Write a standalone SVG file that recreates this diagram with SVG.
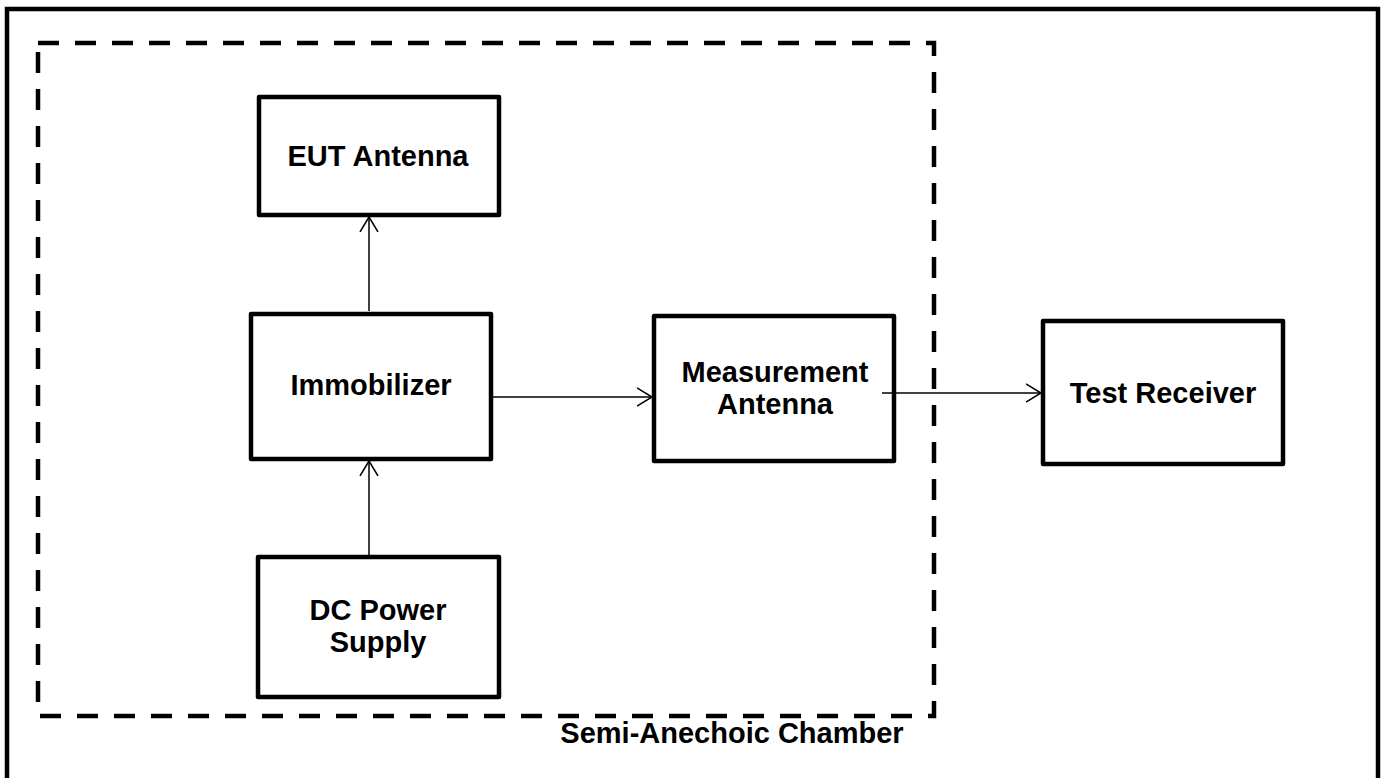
<svg xmlns="http://www.w3.org/2000/svg" width="1386" height="778" viewBox="0 0 1386 778">
<defs>
<style>
.box{fill:#fff;stroke:#000;stroke-width:4.5;stroke-linejoin:round}
.lbl{font-family:"Liberation Sans",Arial,sans-serif;font-weight:bold;font-size:29px;fill:#000;text-anchor:middle}
.conn{stroke:#000;stroke-width:1.5;fill:none;marker-end:url(#arr)}
</style>
<marker id="arr" markerWidth="20" markerHeight="22" refX="15" refY="10" orient="auto" markerUnits="userSpaceOnUse">
<path d="M0,1 L15,10 L0,19" fill="none" stroke="#000" stroke-width="1.5"/>
</marker>
</defs>
<rect width="1386" height="778" fill="#fff"/>
<path id="frame" d="M7,790 L7,9 L1378,9 L1378,790" fill="none" stroke="#000" stroke-width="4.5"/>
<g id="chamber">
<rect x="38" y="43" width="896" height="673" fill="none" stroke="#000" stroke-width="4.5" stroke-dasharray="21 16"/>
<text class="lbl" x="732" y="743">Semi-Anechoic Chamber</text>
</g>
<g id="eut-antenna">
<rect class="box" x="259" y="97" width="240" height="118"/>
<text class="lbl" x="378" y="166">EUT Antenna</text>
</g>
<g id="immobilizer">
<rect class="box" x="251" y="314" width="240" height="145"/>
<text class="lbl" x="371" y="395">Immobilizer</text>
</g>
<g id="measurement-antenna">
<rect class="box" x="654" y="316" width="240" height="145"/>
<text class="lbl" x="775" y="382">Measurement</text>
<text class="lbl" x="775" y="414">Antenna</text>
</g>
<g id="test-receiver">
<rect class="box" x="1043" y="321" width="240" height="143"/>
<text class="lbl" x="1163" y="403">Test Receiver</text>
</g>
<g id="dc-power-supply">
<rect class="box" x="258" y="557" width="241" height="140"/>
<text class="lbl" x="378" y="620">DC Power</text>
<text class="lbl" x="378" y="652">Supply</text>
</g>
<g id="connectors">
<line class="conn" x1="369" y1="311" x2="369" y2="217"/>
<line class="conn" x1="369" y1="555" x2="369" y2="461"/>
<line class="conn" x1="493" y1="397" x2="652" y2="397"/>
<line class="conn" x1="882" y1="393" x2="1041" y2="393"/>
</g>
</svg>
